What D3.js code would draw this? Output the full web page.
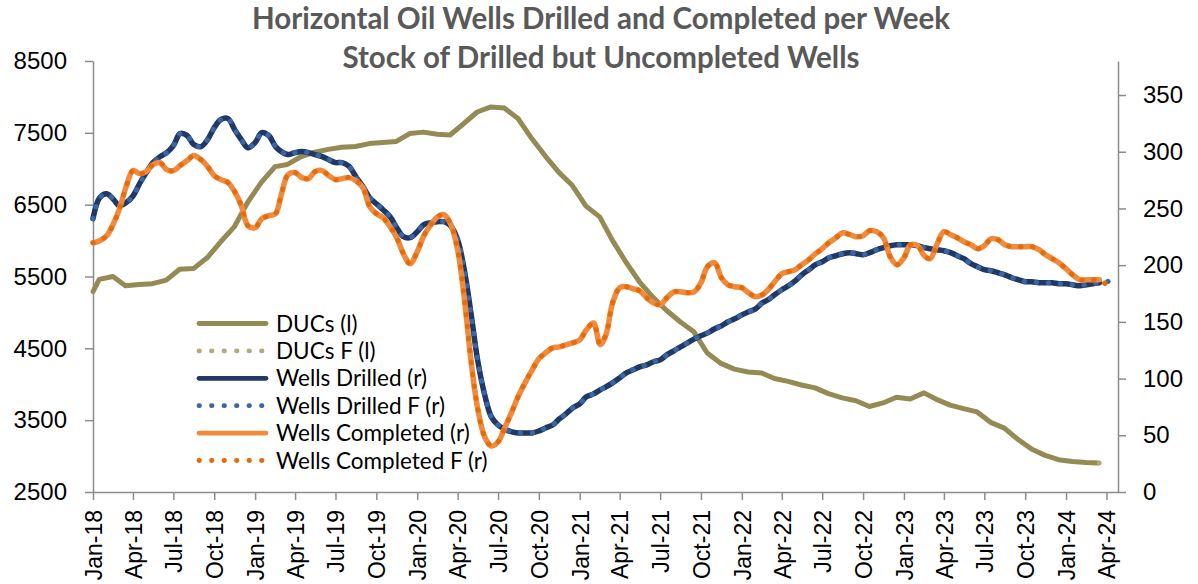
<!DOCTYPE html>
<html>
<head>
<meta charset="utf-8">
<script src="https://cdn.jsdelivr.net/npm/d3@7"></script>
<style>
  body { margin: 0; background: #fff; }
  svg { display: block; font-family: Lato, "Open Sans", sans-serif; }
</style>
</head>
<body>
<svg width="1198" height="584"></svg>
<script>
// ---- data ----
const titleLines = ["Horizontal Oil Wells Drilled and Completed per Week", "Stock of Drilled but Uncompleted Wells"];

// DUCs, left axis: opening value on 1 Jan 2018, then one value per month (mid-month), Jan-18 .. Mar-24
const ducOpening = 5290;
const ducValues = [
  5460, 5500, 5370, 5390, 5400, 5450, 5600, 5610, 5760, 5980, 6190, 6530,
  6810, 7030, 7060, 7170, 7230, 7270, 7300, 7310, 7350, 7365, 7380, 7490,
  7510, 7480, 7470, 7630, 7790, 7860, 7845, 7700, 7420, 7180, 6950, 6770,
  6480, 6330, 6010, 5700, 5430, 5210, 5030, 4870, 4730, 4435, 4290, 4210,
  4170, 4156, 4080, 4040, 3990, 3950, 3870, 3810, 3770, 3690, 3740, 3820,
  3795, 3880, 3790, 3710, 3660, 3615, 3470, 3390, 3230, 3100, 3010, 2950,
  2925, 2912, 2904
];
const ducForecastDates = ["2024-03-15", "2024-04-08"];
const ducForecast = [2904, 2918];

// Wells drilled / completed per week, right axis: two readings a month (1st and 16th), Jan-18 .. Mar-24
const drilledValues = [
  241, 259.5, 263, 258, 252.5, 255, 261, 272, 281.6, 290.4,
  295.7, 299.2, 305.4, 316, 314.2, 306.3, 304.5, 310.7, 321.3, 328.4,
  329.2, 319.5, 310.7, 303.6, 308, 316.9, 314.2, 304.5, 300.1, 297.5,
  299.2, 300.1, 299.2, 297.5, 295.7, 293, 290.4, 290.4, 286.9, 278,
  269.2, 259.5, 254.2, 248.9, 242.7, 233, 225.1, 224.2, 229.5, 235.7,
  237.4, 238.3, 238.3, 234.8, 222.4, 196, 158, 116.5, 85.6, 66.2,
  59.1, 55.6, 53, 52.1, 52.1, 52.1, 53.8, 56.5, 59.1, 64.4,
  68.9, 74.1, 77.7, 83.9, 86.5, 90, 92.7, 96.2, 100.6, 105,
  107.7, 110.3, 112.1, 114.8, 116.5, 120.9, 124.5, 128, 131.5, 135,
  137.7, 140.3, 143.9, 146.5, 150.1, 152.7, 156.2, 158.9, 161.5, 166.8,
  169.5, 173.9, 178.3, 181.8, 186.2, 191.5, 196, 200.4, 203, 206.5,
  208.3, 210.1, 211, 210.1, 209.2, 211, 213.6, 215.4, 217.1, 218,
  218, 218, 217.1, 215.4, 214.5, 213.6, 212.7, 211, 208.3, 205.7,
  201.3, 198.6, 196, 195.1, 193.3, 191.5, 188.9, 187.1, 185.4, 185.4,
  184.5, 184.5, 184.5, 183.6, 183.6, 182.7, 181.8, 182.7, 183.6, 184.5
];
const completedValues = [
  219.8, 221.6, 226, 236.6, 248.9, 268.3, 283.3, 280.7, 282.5, 288.6,
  290.4, 284.2, 283.3, 287.8, 292.2, 296.6, 293, 286.9, 278.9, 275.4,
  272.8, 264.8, 252.5, 234.8, 233, 241, 243.6, 245.4, 262.2, 279.8,
  281.6, 277.2, 276.3, 282.5, 283.3, 278.9, 275.4, 276.3, 277.2, 274.5,
  268.3, 251.6, 245.4, 241.9, 233.9, 224.2, 210.1, 201.3, 211.8, 226,
  235.7, 242.7, 244.5, 236.6, 213.6, 171.2, 116.5, 74.1, 48.5, 40.6,
  44.1, 56.5, 70.6, 84.7, 97.1, 107.7, 117.4, 122.7, 127.1, 128,
  129.8, 131.5, 134.2, 143, 149, 130, 138.6, 166.8, 180.1, 181,
  179.2, 177.4, 171.2, 166.8, 165.1, 171.2, 176.5, 176.5, 175.7, 176.5,
  184.5, 199, 202, 188.9, 182.7, 181, 180.1, 175.7, 172.1, 173.9,
  178.3, 185.4, 192.4, 194.2, 196, 200.4, 204.8, 210.1, 214.5, 219.8,
  224.2, 228.6, 226.9, 225.1, 226, 230.4, 229.5, 224.2, 207.4, 200.4,
  206.5, 218, 217.1, 208.3, 205.7, 218, 229.5, 226.9, 224.2, 220.7,
  218, 214.5, 217.1, 223.3, 222.4, 218, 216.3, 216.3, 216.3, 216.3,
  213.6, 209.2, 205.7, 202.1, 196.8, 191.5, 187.1, 187.1, 187.1, 187.1
];
const wellsForecastDate = "2024-04-16";
const drilledForecast = 186.2;
const completedForecast = 177.4;

const leftTicks = [2500, 3500, 4500, 5500, 6500, 7500, 8500];
const rightTicks = [0, 50, 100, 150, 200, 250, 300, 350];

const legendNames = ["DUCs (l)", "DUCs F (l)", "Wells Drilled (r)", "Wells Drilled F (r)", "Wells Completed (r)", "Wells Completed F (r)"];
const legendColors = ["#948a54", "#b2a97c", "#1f3864", "#3a66a5", "#f08a3c", "#e46c0a"];
const legendDotted = [false, true, false, true, false, true];

// ---- build ----
const svg = d3.select("svg");
const parse = d3.timeParse("%Y-%m-%d");
const margin = { top: 61, right: 80, bottom: 92, left: 93 };
const width = +svg.attr("width");
const height = +svg.attr("height");
const innerWidth = width - margin.left - margin.right;
const innerHeight = height - margin.top - margin.bottom;

const months = d3.timeMonth.range(new Date(2018, 0, 1), new Date(2024, 3, 1));
const ducDates = [new Date(2018, 0, 1)].concat(months.map(m => d3.timeDay.offset(m, 14)));
const wellDates = months.flatMap(m => [m, d3.timeDay.offset(m, 15)]);

const duc = ducDates.map((d, i) => ({ date: d, value: i === 0 ? ducOpening : ducValues[i - 1] }));
const ducF = ducForecastDates.map((d, i) => ({ date: parse(d), value: ducForecast[i] }));
const drilled = wellDates.map((d, i) => ({ date: d, value: drilledValues[i] }));
const completed = wellDates.map((d, i) => ({ date: d, value: completedValues[i] }));
const drilledF = drilled.concat([{ date: parse(wellsForecastDate), value: drilledForecast }]);
const completedF = completed.concat([{ date: parse(wellsForecastDate), value: completedForecast }]);

const xScale = d3.scaleTime()
  .domain([new Date(2018, 0, 1), new Date(2024, 3, 27)])
  .range([0, innerWidth]);
const yLeft = d3.scaleLinear().domain([2500, 8500]).range([innerHeight, 0]);
const yRight = d3.scaleLinear().domain([0, 380]).range([innerHeight, 0]);

const g = svg.append("g").attr("transform", `translate(${margin.left},${margin.top})`);

// axes
const axisColor = "#8c8c8c";
const styleAxis = (sel, size) => {
  sel.select(".domain").attr("stroke", axisColor).attr("stroke-width", 1.5);
  sel.selectAll(".tick line").attr("stroke", axisColor).attr("stroke-width", 1.5);
  sel.selectAll(".tick text").attr("fill", "#000").style("font-size", size);
};

const leftAxisG = g.append("g")
  .call(d3.axisLeft(yLeft).tickValues(leftTicks).tickSize(8).tickSizeOuter(0).tickPadding(18).tickFormat(d3.format("d")));
styleAxis(leftAxisG, "24px");

const rightAxisG = g.append("g")
  .attr("transform", `translate(${innerWidth},0)`)
  .call(d3.axisRight(yRight).tickValues(rightTicks).tickSize(8).tickSizeOuter(0).tickPadding(17).tickFormat(d3.format("d")));
styleAxis(rightAxisG, "24px");

const xAxisG = g.append("g")
  .attr("transform", `translate(0,${innerHeight})`)
  .call(d3.axisBottom(xScale).ticks(d3.timeMonth.every(3)).tickSize(8).tickSizeOuter(0).tickFormat(d3.timeFormat("%b-%y")));
styleAxis(xAxisG, "23px");
xAxisG.selectAll(".tick text")
  .attr("transform", "rotate(-90)")
  .attr("text-anchor", "end")
  .attr("x", -18)
  .attr("y", 0)
  .attr("dy", "0.36em");

// lines
const smooth = (scale) => d3.line()
  .x(d => xScale(d.date))
  .y(d => scale(d.value))
  .curve(d3.curveCatmullRom.alpha(0.5));
const straight = d3.line()
  .x(d => xScale(d.date))
  .y(d => yLeft(d.value));

const drawLine = (data, gen, color, dotted, w) => {
  const p = g.append("path")
    .attr("d", gen(data))
    .attr("fill", "none")
    .attr("stroke", color)
    .attr("stroke-width", w)
    .attr("stroke-linejoin", "round")
    .attr("stroke-linecap", "round");
  if (dotted) p.attr("stroke-dasharray", "0.5,11.5").attr("stroke-width", w - 0.5);
};

drawLine(duc, straight, legendColors[0], false, 5);
drawLine(ducF, straight, legendColors[1], true, 5);
drawLine(drilled, smooth(yRight), legendColors[2], false, 5.5);
drawLine(drilledF, smooth(yRight), legendColors[3], true, 5.5);
drawLine(completed, smooth(yRight), legendColors[4], false, 5.5);
drawLine(completedF, smooth(yRight), legendColors[5], true, 5.5);

// legend
const legend = svg.append("g").attr("transform", "translate(199,323.5)");
legendNames.forEach((name, i) => {
  const row = legend.append("g").attr("transform", `translate(0,${i * 27.4})`);
  const ln = row.append("line")
    .attr("x1", 0).attr("x2", 67)
    .attr("stroke", legendColors[i])
    .attr("stroke-width", 4.8)
    .attr("stroke-linecap", "round");
  if (legendDotted[i]) ln.attr("stroke-dasharray", "0.5,12").attr("x2", 64);
  row.append("text")
    .attr("x", 77)
    .attr("dy", "0.36em")
    .style("font-size", "22.5px")
    .attr("fill", "#000")
    .text(name);
});

// title
svg.append("g")
  .selectAll("text")
  .data(titleLines)
  .join("text")
  .attr("x", 601)
  .attr("y", (d, i) => 29 + i * 39)
  .attr("text-anchor", "middle")
  .attr("fill", "#595959")
  .style("font-size", "29.5px")
  .style("font-weight", "bold")
  .text(d => d);
</script>
</body>
</html>
